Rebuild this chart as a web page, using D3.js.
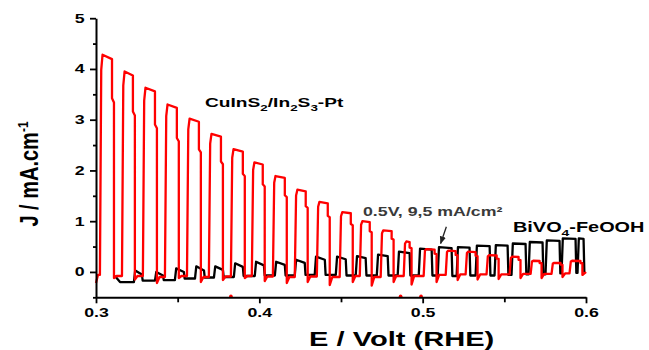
<!DOCTYPE html>
<html lang="en">
<head>
<meta charset="utf-8">
<title>Chopped light J-E</title>
<script src="https://cdn.jsdelivr.net/npm/d3@7"></script>
<style>
  body { margin: 0; background: #fff; }
  text { font-family: "Liberation Sans", Arial, sans-serif; font-weight: bold; }
  .curve { fill: none; stroke-width: 2.3px; stroke-linejoin: round; }
</style>
</head>
<body>
<div id="chart"></div>
<script>
// CuInS2/In2S3-Pt (red): light on / off potentials (V), photocurrent on top, dip after off, dark level
var redOn   = [0.3024, 0.3159, 0.3287, 0.3422, 0.3557, 0.3691, 0.3826, 0.3954, 0.4083, 0.4217, 0.4352, 0.4492,
               0.4615, 0.4743, 0.4884, 0.5006, 0.5141, 0.5263, 0.5391, 0.5532, 0.5661, 0.5789, 0.5899];
var redOff  = [0.3098, 0.3226, 0.3361, 0.3495, 0.3630, 0.3765, 0.3899, 0.4021, 0.4156, 0.4284, 0.4419, 0.4560,
               0.4676, 0.4810, 0.4920, 0.5073, 0.5202, 0.5324, 0.5453, 0.5587, 0.5716, 0.5844, 0.5966];
var redPeak = [4.28, 3.95, 3.63, 3.30, 3.02, 2.72, 2.42, 2.16, 1.89, 1.62, 1.38, 1.18,
               1.00, 0.82, 0.60, 0.45, 0.42, 0.40, 0.33, 0.30, 0.22, 0.18, 0.22];
var redDip  = [-0.12, -0.15, -0.22, -0.12, -0.20, -0.16, -0.12, -0.18, -0.22, -0.20, -0.26, -0.20,
               -0.27, -0.20, -0.25, -0.20, -0.16, -0.15, -0.14, -0.12, -0.12, -0.10, -0.06];
var redDark = [-0.08, -0.08, -0.10, -0.08, -0.10, -0.09, -0.08, -0.09, -0.10, -0.09, -0.10, -0.08,
               -0.10, -0.08, -0.08, -0.06, -0.05, -0.05, -0.05, -0.04, -0.04, -0.03, -0.02];
var redStart = [[0.3, -0.22], [0.3012, -0.06]];
var redEnd = [0.6, 0.0];
var redStray = [0.3826, 0.4865, 0.4990];

// BiVO4-FeOOH (black)
var blackOn   = [0.3232, 0.3361, 0.3483, 0.3606, 0.3722, 0.3844, 0.3972, 0.4095, 0.4217, 0.4339, 0.4468, 0.4590,
                 0.4719, 0.4847, 0.4976, 0.5092, 0.5208, 0.5324, 0.5440, 0.5544, 0.5648, 0.5752, 0.5850, 0.5948];
var blackOff  = [0.3281, 0.3410, 0.3538, 0.3661, 0.3777, 0.3899, 0.4028, 0.4156, 0.4278, 0.4401, 0.4529, 0.4651,
                 0.4786, 0.4920, 0.5055, 0.5177, 0.5287, 0.5410, 0.5520, 0.5630, 0.5734, 0.5838, 0.5936, 0.5985];
var blackPeak = [0.03, 0.00, 0.07, 0.11, 0.11, 0.17, 0.20, 0.20, 0.24, 0.30, 0.30, 0.31,
                 0.34, 0.40, 0.46, 0.49, 0.49, 0.52, 0.53, 0.56, 0.59, 0.62, 0.66, 0.66];
var blackTop  = [-0.05, -0.07, 0.00, 0.03, 0.04, 0.10, 0.13, 0.14, 0.18, 0.24, 0.25, 0.27,
                 0.31, 0.37, 0.44, 0.47, 0.48, 0.51, 0.52, 0.55, 0.58, 0.61, 0.65, 0.65];
var blackDark = [-0.17, -0.16, -0.13, -0.11, -0.10, -0.08, -0.07, -0.07, -0.06, -0.06, -0.07, -0.07,
                 -0.07, -0.07, -0.07, -0.08, -0.07, -0.07, -0.06, -0.05, -0.05, -0.03, -0.02, 0.00];
var blackStart = [[0.3116, -0.08], [0.3147, -0.20]];
var blackEnd = [0.5995, 0.0];

var xTicks = [0.3, 0.4, 0.5, 0.6];
var xMinor = [0.35, 0.45, 0.55];
var yTicks = [0, 1, 2, 3, 4, 5];
var yMinor = [-0.5, 0.5, 1.5, 2.5, 3.5, 4.5];

var width = 649, height = 350,
    sx = 1.42,   // the picture is stretched sideways
    d = 0.0008;

var x = d3.scaleLinear().domain([0.3, 0.6]).range([96, 586]);
var y = d3.scaleLinear().domain([-0.5, 5]).range([297.3, 18.2]);

var svg = d3.select("#chart").append("svg")
    .attr("width", width)
    .attr("height", height);

// build curves from the pulses
var redPts = redStart.slice();
for (var i = 0; i < redOn.length; i++) {
  var prev = i == 0 ? redStart[1][1] : redDark[i - 1];
  redPts.push([redOn[i], prev]);
  redPts.push([redOn[i] + d, redPeak[i] * 0.93]);
  redPts.push([redOn[i] + 2 * d, redPeak[i]]);
  redPts.push([redOff[i], redPeak[i] * 0.98]);
  redPts.push([redOff[i], redPeak[i] * 0.8]);
  redPts.push([redOff[i] + 1.5 * d, redPeak[i] * 0.78]);
  redPts.push([redOff[i] + 1.5 * d, redDip[i]]);
  redPts.push([redOff[i] + 3.5 * d, redDark[i]]);
}
redPts.push(redEnd);

var blackPts = blackStart.slice();
for (var j = 0; j < blackOn.length; j++) {
  var bprev = j == 0 ? blackStart[1][1] : blackDark[j - 1];
  blackPts.push([blackOn[j], bprev]);
  blackPts.push([blackOn[j] + d, blackPeak[j]]);
  blackPts.push([blackOff[j], blackTop[j]]);
  blackPts.push([blackOff[j] + 0.6 * d, blackDark[j]]);
}
blackPts.push(blackEnd);

var line = d3.line()
    .x(function(p) { return x(p[0]); })
    .y(function(p) { return y(p[1]); });

svg.append("path").attr("class", "curve").attr("stroke", "#000").attr("d", line(blackPts));
svg.append("path").attr("class", "curve").attr("stroke", "#ff0000").attr("d", line(redPts));

svg.selectAll(".stray")
    .data(redStray)
  .enter().append("circle")
    .attr("class", "stray")
    .attr("cx", function(v) { return x(v); })
    .attr("cy", y(-0.48))
    .attr("r", 1.8)
    .attr("fill", "#ff0000");

// axes
svg.append("g").attr("transform", "translate(0," + y(-0.5) + ")")
    .call(d3.axisBottom(x).tickValues(xTicks).tickSize(6).tickSizeOuter(0).tickPadding(5)
      .tickFormat(d3.format(".1f")));
svg.append("g").attr("transform", "translate(0," + y(-0.5) + ")")
    .call(d3.axisBottom(x).tickValues(xMinor).tickSize(5).tickFormat(""))
    .select(".domain").remove();

svg.append("g").attr("transform", "translate(" + x(0.3) + ",0)")
    .call(d3.axisLeft(y).tickValues(yTicks).tickSize(6).tickSizeOuter(0).tickPadding(2)
      .tickFormat(d3.format("d")));
svg.append("g").attr("transform", "translate(" + x(0.3) + ",0)")
    .call(d3.axisLeft(y).tickValues(yMinor).tickSize(3).tickFormat(""))
    .select(".domain").remove();

svg.selectAll(".domain").attr("stroke", "#000").attr("stroke-width", 2);
svg.selectAll(".tick line").attr("stroke", "#000").attr("stroke-width", 1.8);
svg.selectAll(".tick text")
    .attr("fill", "#000")
    .style("font-size", "12.5px")
    .attr("transform", "scale(" + sx + ",1)");

// labels, "sub" parts drop below the line
function addText(px, py, size, anchor, parts, fill) {
  var t = svg.append("g")
      .attr("transform", "translate(" + px + "," + py + ") scale(" + sx + ",1)")
    .append("text")
      .attr("text-anchor", anchor)
      .attr("fill", fill || "#000")
      .style("font-size", size + "px");
  var shift = 0;
  parts.forEach(function(p) {
    var ts = t.append("tspan").text(p[0]);
    var want = p[1] == "sub" ? size * 0.28 : 0;
    ts.attr("dy", want - shift);
    shift = want;
    if (p[1]) ts.style("font-size", (size * 0.7) + "px");
  });
}

addText(205, 107, 13.5, "start",
  [["CuInS"], ["2", "sub"], ["/In"], ["2", "sub"], ["S"], ["3", "sub"], ["-Pt"]]);
addText(363, 216, 12.5, "start", [["0.5V, 9,5 mA/cm²"]], "#3a3a3a");
addText(513, 232, 14, "start", [["BiVO"], ["4", "sub"], ["-FeOOH"]]);
addText(309, 346, 20.5, "start", [["E / Volt (RHE)"]]);

var yl = svg.append("g")
    .attr("transform", "translate(38,174) scale(1.25,1) rotate(-90)")
  .append("text")
    .attr("text-anchor", "middle")
    .style("font-size", "20px");
yl.append("tspan").text("J / mA.cm");
yl.append("tspan").attr("dy", -8).style("font-size", "12px").text("-1");

// arrow to 0.5 V
svg.append("defs").append("marker")
    .attr("id", "head")
    .attr("viewBox", "0 0 10 10")
    .attr("refX", 9).attr("refY", 5)
    .attr("markerWidth", 6).attr("markerHeight", 6)
    .attr("orient", "auto")
  .append("path")
    .attr("d", "M0,1L10,5L0,9Z")
    .attr("fill", "#222");

svg.append("line")
    .attr("x1", x(0.5145)).attr("y1", y(0.89))
    .attr("x2", x(0.5110)).attr("y2", y(0.56))
    .attr("stroke", "#222")
    .attr("stroke-width", 1.3)
    .attr("marker-end", "url(#head)");
</script>
</body>
</html>
